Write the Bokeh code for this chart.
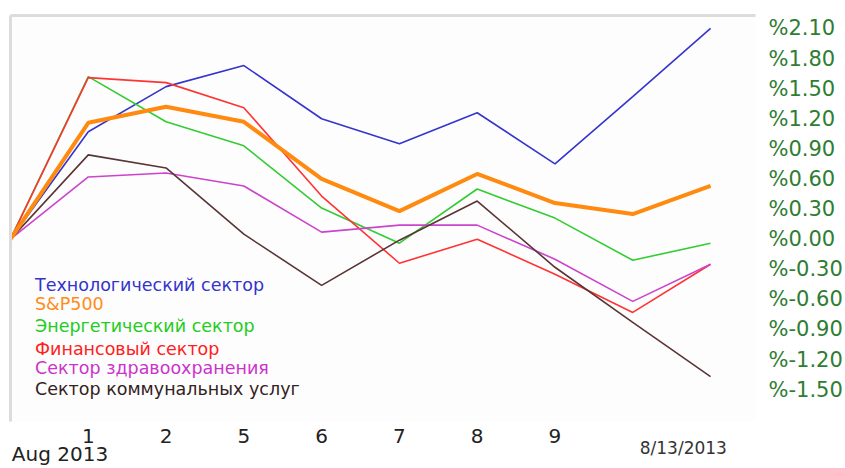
from bokeh.plotting import figure
from bokeh.models import (Range1d, LinearAxis, FixedTicker, PrintfTickFormatter,
                          Legend, LegendItem)
from bokeh.embed import file_html
from bokeh.resources import INLINE

# ---------------- data ----------------
dates = ["7/31", "8/1", "8/2", "8/5", "8/6", "8/7", "8/8", "8/9", "8/12", "8/13"]
tick_labels = ["", "1", "2", "5", "6", "7", "8", "9", "", ""]
end_label = "8/13/2013"
month_label = "Aug 2013"

tech   = [0.00, 1.07, 1.52, 1.73, 1.20, 0.95, 1.26, 0.75, 1.42, 2.10]
sp500  = [0.00, 1.16, 1.32, 1.17, 0.60, 0.28, 0.65, 0.36, 0.25, 0.53]
energy = [0.00, 1.62, 1.17, 0.93, 0.31, -0.04, 0.50, 0.21, -0.21, -0.04]
fin    = [0.00, 1.61, 1.56, 1.31, 0.43, -0.24, 0.00, -0.35, -0.73, -0.25]
health = [0.00, 0.62, 0.66, 0.53, 0.07, 0.14, 0.14, -0.20, -0.62, -0.25]
util   = [0.00, 0.84, 0.71, 0.05, -0.46, -0.01, 0.38, -0.28, -0.83, -1.37]

names = ["Технологический сектор", "S&P500", "Энергетический сектор",
         "Финансовый сектор", "Сектор здравоохранения", "Сектор коммунальных услуг"]

y_ticks = [-1.5, -1.2, -0.9, -0.6, -0.3, 0.0, 0.3, 0.6, 0.9, 1.2, 1.5, 1.8, 2.1]

# ---------------- style ----------------
FONT = "DejaVu Sans"
line_colors = ["#3535cc", "#ff8a10", "#33cc33", "#ff3333", "#cc44cc", "#5a3535"]
text_colors = ["#3333cc", "#ff8c1a", "#22cc22", "#ff2020", "#cc33cc", "#332222"]
line_widths = [1.6, 4, 1.6, 1.6, 1.6, 1.6]
legend_y = [126, 107, 85, 62, 43, 22]

x = list(range(len(dates)))

p = figure(width=845, height=468, output_backend="svg", toolbar_location=None,
           x_range=Range1d(0, 9.578), y_range=Range1d(-1.817, 2.229),
           min_border_left=10, min_border_top=15, min_border_right=90,
           min_border_bottom=0)
p.background_fill_color = "#fdfdfd"
p.border_fill_color = "white"
p.outline_line_color = None
p.grid.visible = False
p.yaxis.visible = False

# main x axis: day numbers
xa = p.xaxis[0]
xa.ticker = FixedTicker(ticks=[i for i, t in enumerate(tick_labels) if t])
xa.major_label_overrides = {i: t for i, t in enumerate(tick_labels) if t}
xa.axis_line_color = None
xa.major_tick_line_color = None
xa.minor_tick_line_color = None
xa.major_tick_out = 0
xa.major_tick_in = 0
xa.major_label_standoff = 7
xa.major_label_text_font = FONT
xa.major_label_text_font_size = "20px"
xa.major_label_text_color = "#222222"

# second x axis: end date
xa2 = LinearAxis(ticker=FixedTicker(ticks=[8.65]),
                 major_label_overrides={8.65: end_label})
# third x axis: month label
xa3 = LinearAxis(ticker=FixedTicker(ticks=[0.636]),
                 major_label_overrides={0.636: month_label})
for ax, size, so, col in [(xa2, "17px", -8, "#333333"), (xa3, "20px", -19, "#222222")]:
    ax.axis_line_color = None
    ax.major_tick_line_color = None
    ax.minor_tick_line_color = None
    ax.major_tick_out = 0
    ax.major_tick_in = 0
    ax.major_label_standoff = so
    ax.major_label_text_font = FONT
    ax.major_label_text_font_size = size
    ax.major_label_text_color = col
    p.add_layout(ax, "below")

# right y axis
ya = LinearAxis(ticker=FixedTicker(ticks=y_ticks),
                formatter=PrintfTickFormatter(format="%%%.2f"))
ya.axis_line_color = None
ya.major_tick_line_color = None
ya.minor_tick_line_color = None
ya.major_tick_out = 0
ya.major_tick_in = 0
ya.major_label_standoff = 13
ya.major_label_text_font = FONT
ya.major_label_text_font_size = "21px"
ya.major_label_text_color = "#2e7d32"
p.add_layout(ya, "right")

# grey frame lines (left and top)
for loc in ["left", "above"]:
    b = LinearAxis(ticker=FixedTicker(ticks=[]))
    b.axis_line_color = "#dcdcdc"
    b.axis_line_width = 3
    b.major_tick_out = 0
    b.major_tick_in = 0
    b.major_label_standoff = 0
    p.add_layout(b, loc)

series = [tech, sp500, energy, fin, health, util]
order = [0, 2, 3, 4, 5, 1]
renderers = {}
for i in order:
    renderers[i] = p.line(x, series[i], line_color=line_colors[i],
                          line_width=line_widths[i])

for i in range(len(series)):
    leg = Legend(items=[LegendItem(label=names[i], renderers=[renderers[i]])],
                 location=(25, legend_y[i]),
                 label_text_color=text_colors[i], label_text_font=FONT,
                 label_text_font_size="17.5px", glyph_width=0, glyph_height=20,
                 label_height=20, label_standoff=0, padding=0, margin=0,
                 spacing=0, border_line_color=None, background_fill_alpha=0)
    p.add_layout(leg)

open("out.html", "w").write(file_html(p, INLINE))
